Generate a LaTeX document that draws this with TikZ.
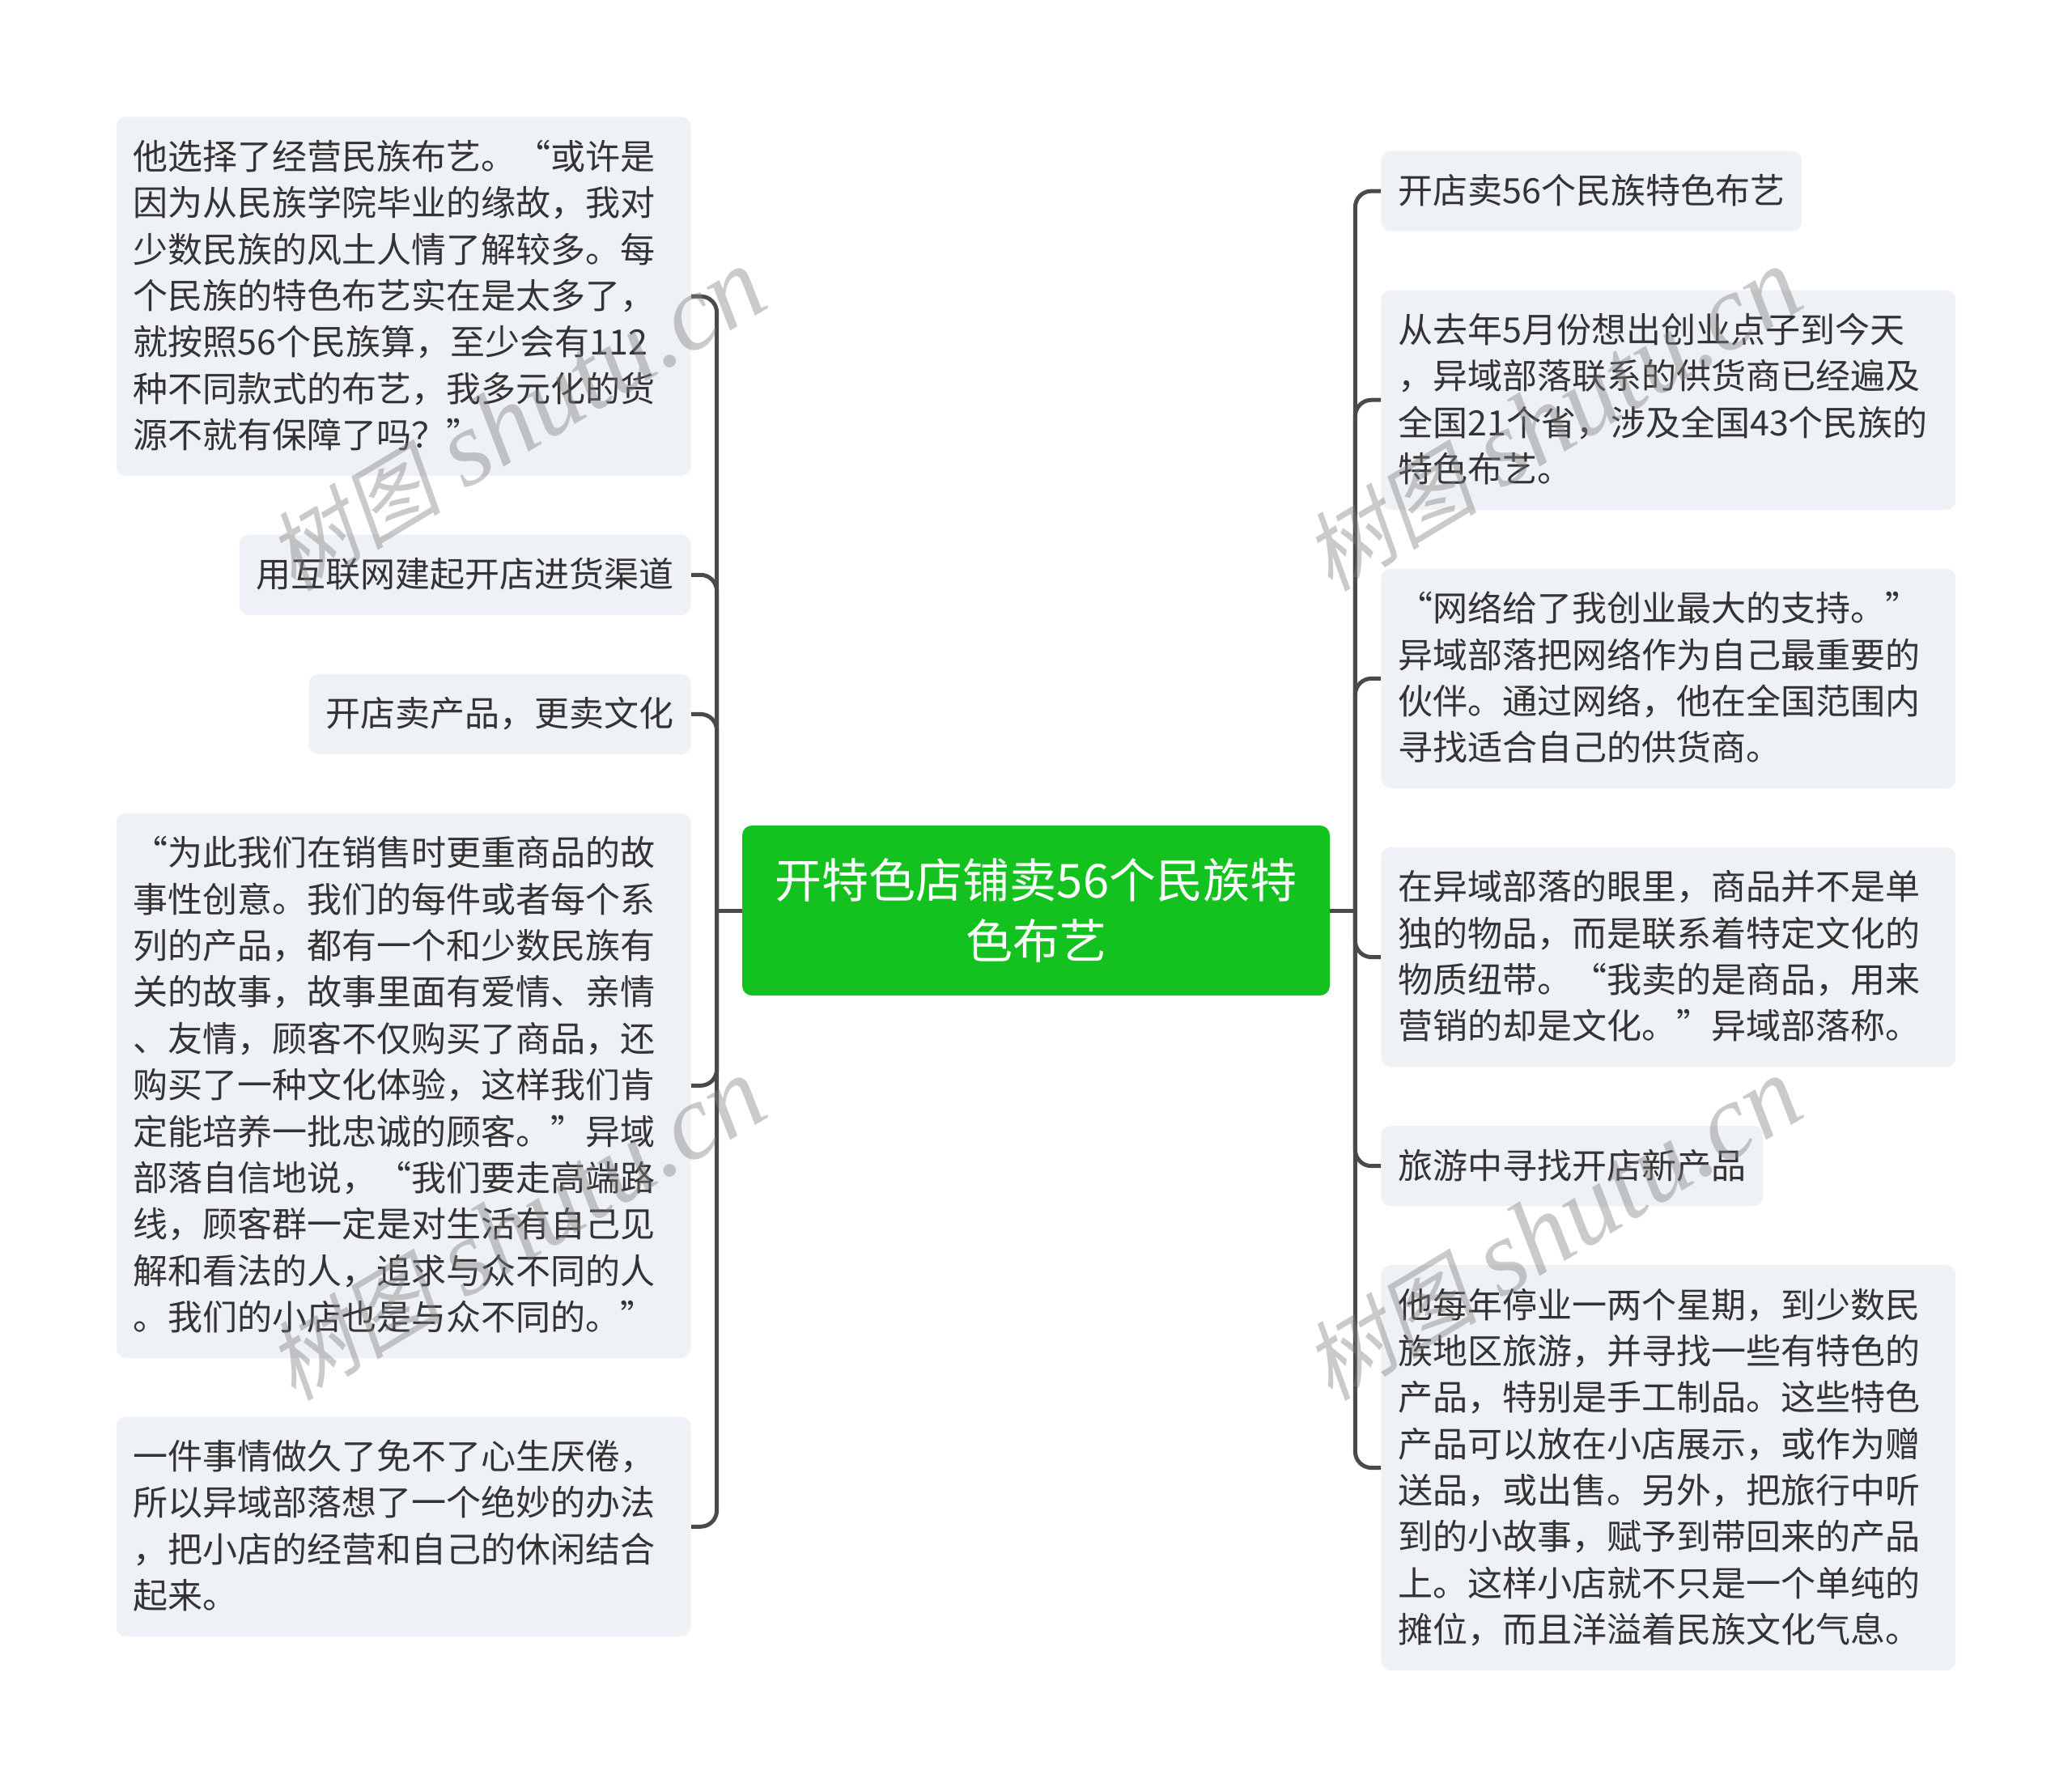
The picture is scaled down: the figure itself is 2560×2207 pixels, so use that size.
\documentclass[tikz,border=0pt]{standalone}
\usepackage{xcolor}
\usepackage{fontspec}
\usepackage{tikz}
\usetikzlibrary{positioning}
\setmainfont{Noto Sans CJK SC}
\newfontfamily\markfont{Liberation Serif}
\newfontfamily\markcjk[FakeSlant=0.2]{Noto Sans CJK SC}
\definecolor{rootGreen}{HTML}{13C11F}
\definecolor{leafGray}{HTML}{EEF1F5}
\definecolor{lineGray}{HTML}{4A4A4A}
\definecolor{textGray}{HTML}{333333}
\newcommand{\leaftop}{\vrule width 0pt height 22pt depth 0pt\relax}
\newcommand{\leafend}{\vrule width 0pt height 0pt depth 6.65pt\relax}
\newcommand{\roottop}{\vrule width 0pt height 29.5pt depth 0pt\relax}
\newcommand{\rootend}{\vrule width 0pt height 0pt depth 8pt\relax}
\tikzset{root-node/.style={fill=rootGreen, text=white, rounded corners=6pt, text width=342pt, align=center, inner xsep=10.5pt, inner ysep=15pt, font=\fontsize{29pt}{37.5pt}\selectfont, execute at begin node=\roottop, execute at end node=\rootend}}
\tikzset{leaf-node/.style={fill=leafGray, text=textGray, rounded corners=6pt, align=left, inner sep=10.5pt, font=\fontsize{21.5pt}{28.68pt}\selectfont, execute at begin node=\leaftop, execute at end node=\leafend}}
\tikzset{wide-leaf/.style={leaf-node, text width=334pt}}
\tikzset{branch-line/.style={draw=lineGray, line width=2.5pt, rounded corners=10pt}}
\tikzset{water-mark/.style={text=gray, opacity=0.42, rotate=31, font=\fontsize{66pt}{66pt}\selectfont}}
\newcommand{\watermark}[2]{
    \node[water-mark] (#1) at (#2) {{\fontsize{54pt}{54pt}\selectfont\markcjk 树图} {\markfont\itshape shutu.cn}};
}

\begin{document}
\begin{tikzpicture}[x=0.5pt, y=-0.5pt]
    \useasboundingbox (0,0) rectangle (2560,2207);

    \node[root-node] (root) at (1280,1125) {开特色店铺卖56个民族特\\色布艺};
    \coordinate[left=15.5pt of root.west] (hubleft);
    \coordinate[right=15.5pt of root.east] (hubright);

    % left side
    \node[wide-leaf, anchor=north east] (left1) at (854,144) {他选择了经营民族布艺。“或许是\\因为从民族学院毕业的缘故，我对\\少数民族的风土人情了解较多。每\\个民族的特色布艺实在是太多了，\\就按照56个民族算，至少会有112\\种不同款式的布艺，我多元化的货\\源不就有保障了吗？”};
    \node[leaf-node, below=36pt of left1.south east, anchor=north east] (left2) {用互联网建起开店进货渠道};
    \node[leaf-node, below=36pt of left2.south east, anchor=north east] (left3) {开店卖产品，更卖文化};
    \node[wide-leaf, below=36pt of left3.south east, anchor=north east] (left4) {“为此我们在销售时更重商品的故\\事性创意。我们的每件或者每个系\\列的产品，都有一个和少数民族有\\关的故事，故事里面有爱情、亲情\\、友情，顾客不仅购买了商品，还\\购买了一种文化体验，这样我们肯\\定能培养一批忠诚的顾客。”异域\\部落自信地说，“我们要走高端路\\线，顾客群一定是对生活有自己见\\解和看法的人，追求与众不同的人\\。我们的小店也是与众不同的。”};
    \node[wide-leaf, below=36pt of left4.south east, anchor=north east] (left5) {一件事情做久了免不了心生厌倦，\\所以异域部落想了一个绝妙的办法\\，把小店的经营和自己的休闲结合\\起来。};

    % right side
    \node[leaf-node, anchor=north west] (right1) at (1706,186) {开店卖56个民族特色布艺};
    \node[wide-leaf, below=36pt of right1.south west, anchor=north west] (right2) {从去年5月份想出创业点子到今天\\，异域部落联系的供货商已经遍及\\全国21个省，涉及全国43个民族的\\特色布艺。};
    \node[wide-leaf, below=36pt of right2.south west, anchor=north west] (right3) {“网络给了我创业最大的支持。”\\异域部落把网络作为自己最重要的\\伙伴。通过网络，他在全国范围内\\寻找适合自己的供货商。};
    \node[wide-leaf, below=36pt of right3.south west, anchor=north west] (right4) {在异域部落的眼里，商品并不是单\\独的物品，而是联系着特定文化的\\物质纽带。“我卖的是商品，用来\\营销的却是文化。”异域部落称。};
    \node[leaf-node, below=36pt of right4.south west, anchor=north west] (right5) {旅游中寻找开店新产品};
    \node[wide-leaf, below=36pt of right5.south west, anchor=north west] (right6) {他每年停业一两个星期，到少数民\\族地区旅游，并寻找一些有特色的\\产品，特别是手工制品。这些特色\\产品可以放在小店展示，或作为赠\\送品，或出售。另外，把旅行中听\\到的小故事，赋予到带回来的产品\\上。这样小店就不只是一个单纯的\\摊位，而且洋溢着民族文化气息。};

    \draw[branch-line] (root.west) -- (hubleft);
    \draw[branch-line] (hubleft) |- (left1.east);
    \draw[branch-line] (hubleft) |- (left2.east);
    \draw[branch-line] (hubleft) |- (left3.east);
    \draw[branch-line] (hubleft) |- (left4.east);
    \draw[branch-line] (hubleft) |- (left5.east);

    \draw[branch-line] (root.east) -- (hubright);
    \draw[branch-line] (hubright) |- (right1.west);
    \draw[branch-line] (hubright) |- (right2.west);
    \draw[branch-line] (hubright) |- (right3.west);
    \draw[branch-line] (hubright) |- (right4.west);
    \draw[branch-line] (hubright) |- (right5.west);
    \draw[branch-line] (hubright) |- (right6.west);

    \watermark{mark1}{638,519}
    \watermark{mark2}{1918,519}
    \watermark{mark3}{638,1519}
    \watermark{mark4}{1918,1519}
\end{tikzpicture}
\end{document}
